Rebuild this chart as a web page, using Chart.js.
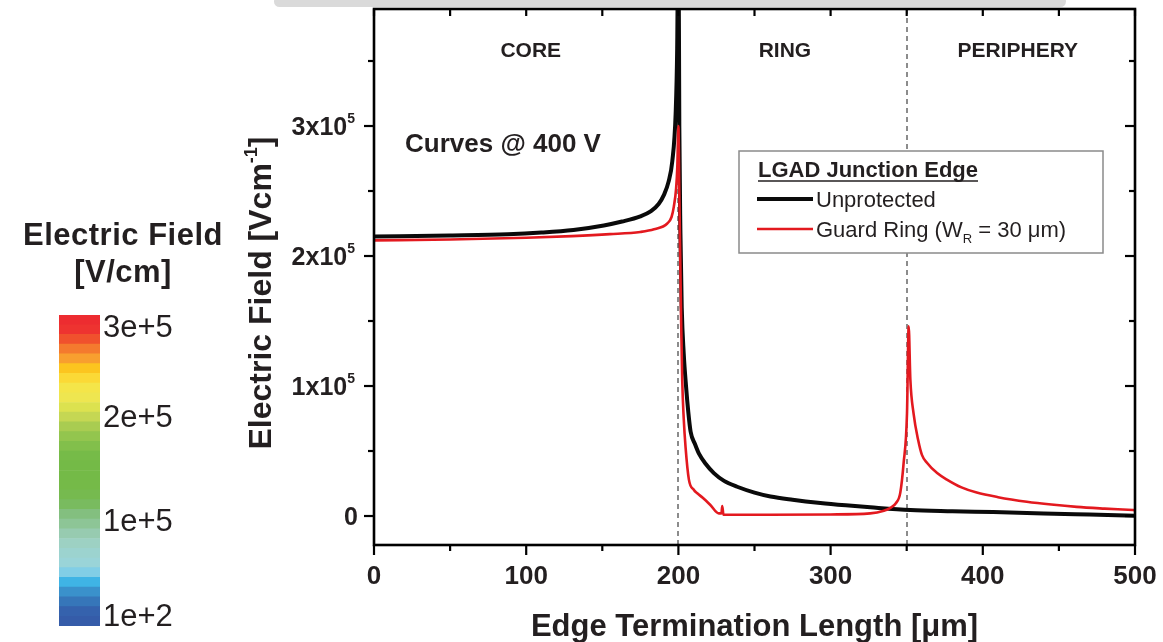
<!DOCTYPE html>
<html>
<head>
<meta charset="utf-8">
<title>Electric field along the edge termination</title>
<script src="https://cdn.jsdelivr.net/npm/chart.js@4.4.0/dist/chart.umd.min.js"></script>
<style>
  body { margin: 0; background: #fff; font-family: 'Liberation Sans', Arial, sans-serif; }
  #wrap { position: relative; width: 1163px; height: 642px; overflow: hidden; }
  #fieldChart { position: absolute; left: 0; top: 0; }
  #topbar { position: absolute; left: 274px; top: -4px; width: 792px; height: 11px; background: #dadada; border-radius: 10px; }
  #scaleTitle { position: absolute; left: 0; top: 216px; width: 246px; text-align: center; font-weight: bold;
                font-size: 31px; line-height: 37px; color: #231f20; letter-spacing: 0.5px; }
  #scaleBar { position: absolute; left: 59px; top: 305px; }
</style>
</head>
<body>
<div id="wrap">
  <canvas id="fieldChart" width="1163" height="642"></canvas>
  <div id="topbar"></div>
  <div id="scaleTitle">Electric Field<br>[V/cm]</div>
  <canvas id="scaleBar" width="160" height="335"></canvas>
</div>
<script>
// Field profiles at 400 V (x in um, field in V/cm)
const unprotectedX = [0, 50, 88, 110, 131, 151, 163, 175, 182, 187, 190.5, 193.5, 196, 198.2, 199.2, 200,
  200.6, 201.3, 202.2, 203.5, 205, 206.5, 208, 211, 213.5, 218, 223.3, 230, 238.6, 250, 260.5, 275, 293.3,
  310, 326.1, 352.4, 380, 406.8, 440, 470, 500];
const unprotectedY = [215000, 215800, 216700, 218000, 220000, 223500, 226500, 230500, 234500, 240000, 247000,
  257000, 273000, 310000, 360000, 460000,
  300000, 220000, 160000, 125000, 100000, 80000, 65000, 55000, 48000, 40000, 33000, 27000, 22500, 18000,
  15000, 12500, 10000, 8200, 6700, 4600, 3700, 3000, 2000, 1100, 200];

const guardX = [0, 50, 100, 130, 155, 175, 184, 192.7, 195.5, 197, 198.5, 199.3, 200,
  200.6, 201.2, 201.8, 202.5, 203.5, 204.7, 206.9, 210.2, 212.4, 216, 221, 226.6, 228.3, 228.8, 229.6,
  260, 300, 326, 335, 339, 343, 345.8, 348, 350.2, 351.3, 352.4, 354.5, 357.6, 360, 363.3, 370, 376.4,
  386, 396, 410, 428.9, 445, 461.7, 480, 498.7, 500];
const guardY = [212000, 212700, 214000, 215300, 216800, 218500, 220500, 225000, 230000, 238000, 252000, 269000, 300000,
  250000, 200000, 150000, 105000, 75000, 53000, 28000, 20000, 17500, 14000, 8500, 2000, 2000, 7700, 1000,
  1000, 1200, 2000, 4000, 6000, 10000, 18000, 41000, 79000, 146000, 105000, 79000, 58000, 47000, 41000, 33000, 28000,
  22000, 18000, 14500, 11000, 8800, 7000, 5700, 4600, 4500];

// Axis ticks
const xTickValues = [0, 100, 200, 300, 400, 500];
const xTickLabels = ['0', '100', '200', '300', '400', '500'];
const xMinorValues = [50, 150, 250, 350, 450];
const yTickValues = [0, 100000, 200000, 300000];
const yTickMantissa = ['0', '1', '2', '3'];
const yMinorValues = [50000, 150000, 250000, 350000];

// Region boundaries and names
const regionBounds = [200, 350];
const regionNames = ['CORE', 'RING', 'PERIPHERY'];
const regionCenters = [103, 270, 423];

// Colour scale (top to bottom)
const scaleColors = ['#ed2c30', '#ee3330', '#f0512d', '#f47a2e', '#f89f2f', '#fcc51f', '#fbd936', '#f4e549',
  '#eee650', '#dce24f', '#c5d753', '#a9cc51', '#93c54e', '#82bf4b', '#76bb48', '#74ba47', '#74ba47', '#75ba48',
  '#76ba4f', '#79bb5f', '#83bf7f', '#8dc596', '#97cbb0', '#9dd1c3', '#9cd3cf', '#9ad4d8', '#81cee6', '#3fb4e5',
  '#3a91cb', '#3676b9', '#3562ad', '#355ca9'];
const scaleMax = 300000;
const scaleTicks = [300000, 200000, 100000, 100];
const scaleTickLabels = ['3e+5', '2e+5', '1e+5', '1e+2'];

const FONT = "'Liberation Sans', Arial, sans-serif";
const INK = '#231f20';
const BLACK = '#0a0a0a';
const RED = '#e3191f';

// draw a run of text pieces (for super/subscripts)
function richText(ctx, segs, x, y, align) {
  let total = 0;
  segs.forEach(s => {
    ctx.font = (s.weight || 'bold') + ' ' + s.size + 'px ' + FONT;
    s.w = ctx.measureText(s.text).width;
    total += s.w;
  });
  let cx = align === 'right' ? x - total : align === 'center' ? x - total / 2 : x;
  ctx.textAlign = 'left';
  segs.forEach(s => {
    ctx.font = (s.weight || 'bold') + ' ' + s.size + 'px ' + FONT;
    ctx.fillText(s.text, cx, y + (s.dy || 0));
    cx += s.w;
  });
}

const framePlugin = {
  id: 'frame',
  beforeDatasetsDraw(chart) {
    const { ctx, chartArea: a, scales: { x } } = chart;
    ctx.save();
    ctx.strokeStyle = '#8c8c8c';
    ctx.lineWidth = 2;
    ctx.setLineDash([5, 4]);
    regionBounds.forEach(v => {
      const px = Math.round(x.getPixelForValue(v));
      ctx.beginPath();
      ctx.moveTo(px, a.top);
      ctx.lineTo(px, a.bottom);
      ctx.stroke();
    });
    ctx.restore();
  },
  afterDatasetsDraw(chart) {
    const { ctx, chartArea: a, scales: { x, y } } = chart;
    ctx.save();

    // box
    ctx.strokeStyle = '#000';
    ctx.lineWidth = 2.6;
    ctx.strokeRect(a.left, a.top, a.right - a.left, a.bottom - a.top);

    // ticks
    ctx.lineWidth = 2.2;
    const tick = (x1, y1, x2, y2) => { ctx.beginPath(); ctx.moveTo(x1, y1); ctx.lineTo(x2, y2); ctx.stroke(); };
    xTickValues.forEach(v => {
      const px = x.getPixelForValue(v);
      tick(px, a.bottom, px, a.bottom + 10);
      tick(px, a.top, px, a.top + 7);
    });
    xMinorValues.forEach(v => {
      const px = x.getPixelForValue(v);
      tick(px, a.bottom, px, a.bottom + 6);
      tick(px, a.top, px, a.top + 7);
    });
    yTickValues.forEach(v => {
      const py = y.getPixelForValue(v);
      tick(a.left - 10, py, a.left, py);
      tick(a.right - 10, py, a.right, py);
    });
    yMinorValues.forEach(v => {
      const py = y.getPixelForValue(v);
      tick(a.left - 6, py, a.left, py);
      tick(a.right - 6, py, a.right, py);
    });

    ctx.fillStyle = INK;
    ctx.textBaseline = 'alphabetic';

    // x tick labels
    ctx.font = 'bold 26px ' + FONT;
    ctx.textAlign = 'center';
    xTickValues.forEach((v, i) => ctx.fillText(xTickLabels[i], x.getPixelForValue(v), a.bottom + 39));

    // y tick labels
    yTickValues.forEach((v, i) => {
      const py = y.getPixelForValue(v) + 9;
      if (v === 0) {
        richText(ctx, [{ text: '0', size: 25 }], a.left - 16, py, 'right');
      } else {
        richText(ctx, [{ text: yTickMantissa[i] + 'x10', size: 25 }, { text: '5', size: 14, dy: -12 }], a.left - 19, py, 'right');
      }
    });

    // axis titles
    richText(ctx, [{ text: 'Edge Termination Length [\u03bcm]', size: 31 }], (a.left + a.right) / 2, 636, 'center');
    ctx.save();
    ctx.translate(271, 293);
    ctx.rotate(-Math.PI / 2);
    richText(ctx, [{ text: 'Electric Field [Vcm', size: 32 }, { text: '-1', size: 18, dy: -14 }, { text: ']', size: 32 }], 0, 0, 'center');
    ctx.restore();

    // region names
    ctx.font = 'bold 21px ' + FONT;
    ctx.textAlign = 'center';
    regionNames.forEach((n, i) => ctx.fillText(n, x.getPixelForValue(regionCenters[i]), 57));

    ctx.font = 'bold 26px ' + FONT;
    ctx.textAlign = 'left';
    ctx.fillText('Curves @ 400 V', 405, 152);

    // legend
    ctx.fillStyle = '#fff';
    ctx.fillRect(739, 151, 364, 102);
    ctx.strokeStyle = '#8a8a8a';
    ctx.lineWidth = 1.5;
    ctx.strokeRect(739, 151, 364, 102);
    ctx.fillStyle = INK;
    ctx.font = 'bold 22px ' + FONT;
    ctx.fillText('LGAD Junction Edge', 758, 177);
    const tw = ctx.measureText('LGAD Junction Edge').width;
    ctx.strokeStyle = INK;
    ctx.lineWidth = 1.6;
    tick(758, 181, 758 + tw, 181);
    ctx.lineCap = 'butt';
    ctx.strokeStyle = BLACK;
    ctx.lineWidth = 4;
    tick(757, 199, 813, 199);
    ctx.strokeStyle = RED;
    ctx.lineWidth = 2.6;
    tick(757, 229, 813, 229);
    ctx.fillStyle = INK;
    richText(ctx, [{ text: 'Unprotected', size: 22, weight: 'normal' }], 816, 207, 'left');
    richText(ctx, [{ text: 'Guard Ring (W', size: 22, weight: 'normal' },
      { text: 'R', size: 13, weight: 'normal', dy: 6 },
      { text: ' = 30 \u03bcm)', size: 22, weight: 'normal' }], 816, 237, 'left');

    ctx.restore();
  }
};

new Chart(document.getElementById('fieldChart'), {
  type: 'line',
  data: {
    datasets: [{
      label: 'Unprotected',
      data: unprotectedX.map((v, i) => ({ x: v, y: unprotectedY[i] })),
      borderColor: BLACK,
      borderWidth: 4,
      order: 1
    }, {
      label: 'Guard Ring (WR = 30 um)',
      data: guardX.map((v, i) => ({ x: v, y: guardY[i] })),
      borderColor: RED,
      borderWidth: 2.6,
      order: 0
    }]
  },
  options: {
    responsive: false,
    animation: false,
    layout: { padding: { left: 374, right: 28, top: 9, bottom: 97 } },
    elements: {
      point: { radius: 0 },
      line: { cubicInterpolationMode: 'monotone', borderJoinStyle: 'round', fill: false }
    },
    plugins: { legend: { display: false }, tooltip: { enabled: false } },
    scales: {
      x: { type: 'linear', min: 0, max: 500, display: false },
      y: { type: 'linear', min: -22300, max: 390000, display: false }
    }
  },
  plugins: [framePlugin]
});

// colour bar
const scaleLabelPlugin = {
  id: 'scaleLabels',
  afterDraw(chart) {
    const { ctx, chartArea: a, scales: { y } } = chart;
    ctx.save();
    ctx.fillStyle = INK;
    ctx.font = '31px ' + FONT;
    ctx.textAlign = 'left';
    ctx.textBaseline = 'middle';
    scaleTicks.forEach((v, i) => {
      const py = Math.min(Math.max(y.getPixelForValue(v), a.top + 13), a.bottom - 9);
      ctx.fillText(scaleTickLabels[i], a.right + 3, py);
    });
    ctx.restore();
  }
};

const band = scaleMax / scaleColors.length;
new Chart(document.getElementById('scaleBar'), {
  type: 'bar',
  data: {
    labels: ['E'],
    datasets: scaleColors.slice().reverse().map(c => ({
      data: [band],
      backgroundColor: c,
      borderWidth: 0,
      barPercentage: 1,
      categoryPercentage: 1
    }))
  },
  options: {
    responsive: false,
    animation: false,
    layout: { padding: { left: 0, right: 119, top: 10, bottom: 14 } },
    plugins: { legend: { display: false }, tooltip: { enabled: false } },
    scales: {
      x: { stacked: true, display: false },
      y: { stacked: true, display: false, min: 0, max: scaleMax }
    }
  },
  plugins: [scaleLabelPlugin]
});
</script>
</body>
</html>
